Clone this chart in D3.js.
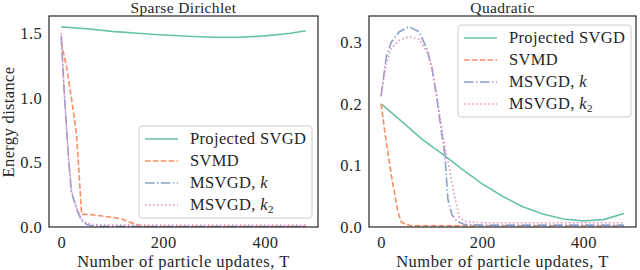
<!DOCTYPE html>
<html>
<head>
<meta charset="utf-8">
<script src="https://cdn.jsdelivr.net/npm/d3@7"></script>
<style>
  body { margin: 0; background: #fff; }
  svg text { font-family: "Liberation Serif", "DejaVu Serif", serif; fill: #262626; letter-spacing: 0.35px; }
</style>
</head>
<body>
<svg id="chart" width="640" height="270"></svg>
<script>
// ---- data ----
var seriesNames = ["Projected SVGD", "SVMD", "MSVGD, k", "MSVGD, k2"];
var colors = ["#66c2a5", "#fc8d62", "#8da0cb", "#e78ac3"];
var xTicks = [0, 200, 400];

// Sparse Dirichlet
var dirProjT = [0, 50, 100, 150, 200, 250, 300, 350, 400, 450, 480];
var dirProjV = [1.55, 1.535, 1.515, 1.5, 1.487, 1.477, 1.47, 1.47, 1.48, 1.5, 1.52];
var dirSvmdT = [0, 10, 20, 30, 36, 40, 60, 80, 100, 120, 140, 160, 200, 300, 400, 480];
var dirSvmdV = [1.43, 1.25, 1.0, 0.72, 0.35, 0.1, 0.095, 0.085, 0.075, 0.06, 0.03, 0.005, 0.003, 0.003, 0.003, 0.003];
var dirKT = [0, 5, 10, 15, 20, 30, 40, 50, 60, 80, 100, 200, 300, 400, 480];
var dirKV = [1.48, 1.1, 0.78, 0.5, 0.27, 0.14, 0.05, 0.02, 0.01, 0.006, 0.005, 0.004, 0.004, 0.004, 0.004];
var dirK2T = [0, 5, 10, 15, 20, 30, 40, 50, 60, 80, 100, 200, 300, 400, 480];
var dirK2V = [1.5, 1.12, 0.8, 0.52, 0.28, 0.15, 0.06, 0.03, 0.02, 0.016, 0.015, 0.015, 0.015, 0.015, 0.015];
var dirTicks = [0.0, 0.5, 1.0, 1.5];

// Quadratic
var quadProjT = [0, 40, 80, 120, 160, 200, 240, 280, 320, 360, 400, 440, 480];
var quadProjV = [0.2, 0.172, 0.143, 0.119, 0.094, 0.07, 0.05, 0.033, 0.021, 0.013, 0.010, 0.012, 0.022];
var quadSvmdT = [0, 8, 20, 33, 40, 50, 60, 100, 200, 300, 400, 480];
var quadSvmdV = [0.2, 0.15, 0.085, 0.025, 0.008, 0.004, 0.002, 0.002, 0.002, 0.002, 0.002, 0.002];
var quadKT = [0, 10, 20, 36, 55, 75, 90, 100, 110, 120, 126, 132, 140, 150, 165, 200, 300, 400, 480];
var quadKV = [0.214, 0.275, 0.3, 0.317, 0.325, 0.317, 0.29, 0.26, 0.21, 0.15, 0.118, 0.045, 0.02, 0.009, 0.004, 0.003, 0.003, 0.003, 0.003];
var quadK2T = [0, 10, 20, 36, 55, 75, 90, 100, 110, 120, 126, 135, 145, 155, 170, 200, 300, 400, 480];
var quadK2V = [0.212, 0.265, 0.29, 0.303, 0.309, 0.305, 0.285, 0.26, 0.215, 0.16, 0.13, 0.095, 0.05, 0.015, 0.008, 0.007, 0.007, 0.007, 0.007];
var quadTicks = [0.0, 0.1, 0.2, 0.3];

var dashes = [null, "5.5,2.4", "9.6,2.4,1.5,2.4", "1.5,2.5"];
var fs = 16.5;

var svg = d3.select("#chart");

function zip(t, v) { return t.map(function(d, i) { return [d, v[i]]; }); }

function drawPanel(opt) {
  var x = d3.scaleLinear().domain([-24, 504]).range([opt.left, opt.right]);
  var y = d3.scaleLinear().domain([0, opt.ymax]).range([opt.bottom, opt.top]);
  var g = svg.append("g");

  g.append("clipPath").attr("id", opt.id + "clip")
    .append("rect").attr("x", opt.left).attr("y", opt.top)
    .attr("width", opt.right - opt.left).attr("height", opt.bottom - opt.top);

  var line = d3.line().x(function(d) { return x(d[0]); }).y(function(d) { return y(d[1]); });
  var lines = g.append("g").attr("clip-path", "url(#" + opt.id + "clip)");
  opt.series.forEach(function(s, i) {
    lines.append("path")
      .datum(s)
      .attr("d", line)
      .attr("fill", "none")
      .attr("stroke", colors[i])
      .attr("stroke-width", 1.6)
      .attr("stroke-dasharray", dashes[i]);
  });

  // axes (no tick marks, seaborn white style)
  var xa = g.append("g").attr("transform", "translate(0," + opt.bottom + ")")
    .call(d3.axisBottom(x).tickValues(xTicks).tickSize(0).tickPadding(9).tickFormat(d3.format("d")));
  var ya = g.append("g").attr("transform", "translate(" + opt.left + ",0)")
    .call(d3.axisLeft(y).tickValues(opt.yTicks).tickSize(0).tickPadding(7).tickFormat(d3.format(".1f")));
  [xa, ya].forEach(function(a) {
    a.select(".domain").remove();
    a.selectAll("text").attr("font-size", fs).attr("font-family", null).attr("fill", "#262626");
  });

  g.append("rect")
    .attr("x", opt.left).attr("y", opt.top)
    .attr("width", opt.right - opt.left).attr("height", opt.bottom - opt.top)
    .attr("fill", "none").attr("stroke", "#262626").attr("stroke-width", 1.2);

  g.append("text").attr("x", (opt.left + opt.right) / 2).attr("y", 12.5)
    .attr("text-anchor", "middle").attr("font-size", 15.5).text(opt.title);
  g.append("text").attr("x", (opt.left + opt.right) / 2).attr("y", 267)
    .attr("text-anchor", "middle").attr("font-size", fs)
    .style("letter-spacing", "0.5px")
    .text("Number of particle updates, T");

  // legend
  var lg = g.append("g").attr("transform", "translate(" + opt.legX + "," + opt.legY + ")");
  lg.append("rect").attr("width", 173).attr("height", 92).attr("rx", 3)
    .attr("fill", "#fff").attr("fill-opacity", 0.8)
    .attr("stroke", "#cccccc").attr("stroke-width", 1);
  seriesNames.forEach(function(name, i) {
    var yy = 13 + i * 22;
    lg.append("line").attr("x1", 6).attr("x2", 39).attr("y1", yy).attr("y2", yy)
      .attr("stroke", colors[i]).attr("stroke-width", 1.6).attr("stroke-dasharray", dashes[i]);
    var t = lg.append("text").attr("x", 51).attr("y", yy + 5).attr("font-size", fs);
    if (i < 2) {
      t.text(name);
    } else {
      t.append("tspan").text("MSVGD, ");
      t.append("tspan").attr("font-style", "italic").text("k");
      if (i === 3) t.append("tspan").attr("font-size", 11).attr("dy", 3).text("2");
    }
  });
}

drawPanel({
  id: "dir", title: "Sparse Dirichlet",
  left: 49, right: 318, top: 16, bottom: 227, ymax: 1.634,
  yTicks: dirTicks,
  series: [zip(dirProjT, dirProjV), zip(dirSvmdT, dirSvmdV), zip(dirKT, dirKV), zip(dirK2T, dirK2V)],
  legX: 139, legY: 126
});

drawPanel({
  id: "quad", title: "Quadratic",
  left: 369, right: 636, top: 16, bottom: 227, ymax: 0.3425,
  yTicks: quadTicks,
  series: [zip(quadProjT, quadProjV), zip(quadSvmdT, quadSvmdV), zip(quadKT, quadKV), zip(quadK2T, quadK2V)],
  legX: 458, legY: 25
});

svg.append("text")
  .attr("transform", "translate(14,122) rotate(-90)")
  .attr("text-anchor", "middle").attr("font-size", fs)
  .text("Energy distance");
</script>
</body>
</html>
